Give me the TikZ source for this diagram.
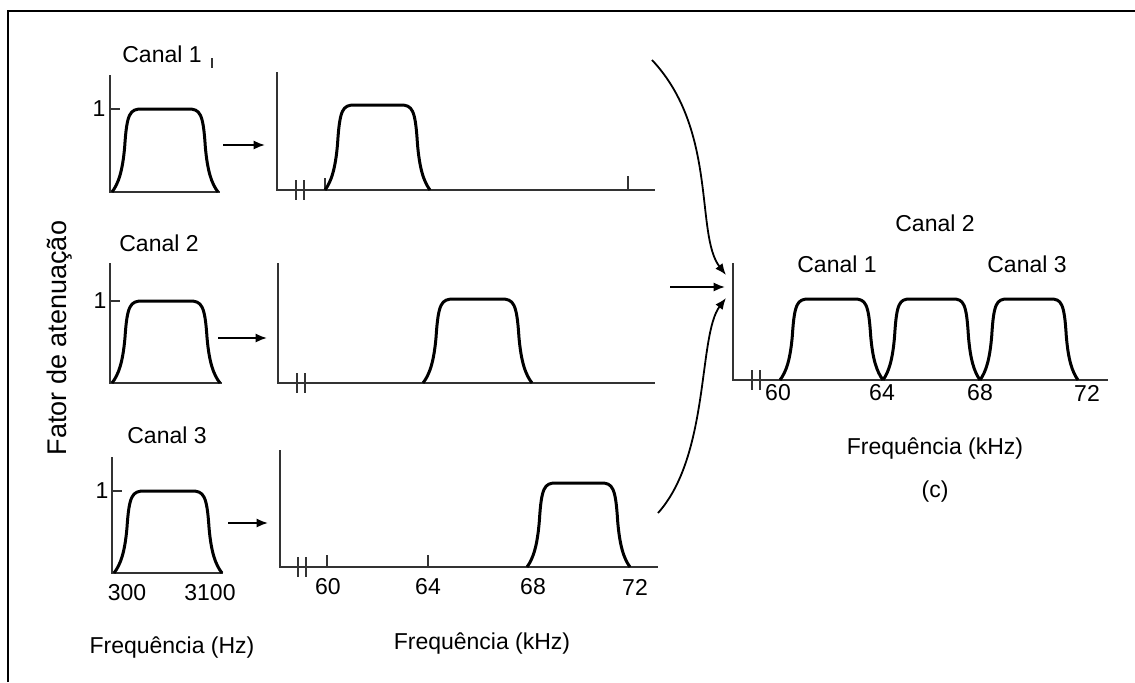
\documentclass[tikz,border=0pt]{standalone}
\usepackage{fontspec}
\setmainfont{Liberation Sans}
\usetikzlibrary{arrows.meta}
\tikzset{
axis/.style={
draw=black!80,
line width=1.1pt
},
band/.style={
draw=black,
line width=1.5pt,
line join=round
},
arrow/.style={
-{Latex[length=2mm,width=1.6mm]},
line width=0.9pt
},
txt/.style={
inner sep=0pt,
font=\fontsize{11.5}{13}\selectfont
}
}
\newcommand{\passband}[4]{%
\draw[band,shift={(#1,#3)},xscale={#2-#1},yscale={#4-#3}]
(0,0) .. controls (0.06,0.1) and (0.1,0.25) .. (0.12,0.55)
.. controls (0.14,0.95) and (0.17,1) .. (0.28,1) -- (0.72,1)
.. controls (0.83,1) and (0.86,0.95) .. (0.88,0.55)
.. controls (0.9,0.25) and (0.94,0.1) .. (1,0);}
\newcommand{\axisgap}[2]{%
\draw[axis] (#1,#2-10) -- (#1,#2+10) (#1+8,#2-10) -- (#1+8,#2+10);}

\begin{document}
\begin{tikzpicture}[x=0.5pt,y=-0.5pt]
\useasboundingbox (0,0) rectangle (1135,682);
\draw[line width=1.2pt] (8,682) -- (8,11) -- (1135,11);

\node[txt,rotate=90,font=\fontsize{13.5}{15}\selectfont] (fator) at (60,338) {Fator de atenuação};

% sinais de voz
\node[txt] (c1) at (162,54) {Canal 1};
\draw[axis] (212,58) -- (212,68);
\draw[axis] (110,75) -- (110,192) -- (220,192);
\draw[axis] (110,109) -- (120,109);
\node[txt] (u1) at (99,109) {1};
\passband{112}{218}{192}{109}

\node[txt] (c2) at (159,243) {Canal 2};
\draw[axis] (110,263) -- (110,383) -- (222,383);
\draw[axis] (110,301) -- (120,301);
\node[txt] (u2) at (100,301) {1};
\passband{112}{220}{383}{301}

\node[txt] (c3) at (167,435) {Canal 3};
\draw[axis] (112,457) -- (112,573) -- (223,573);
\draw[axis] (112,491) -- (122,491);
\node[txt] (u3) at (102,491) {1};
\passband{114}{222}{573}{491}
\node[txt] (f300) at (127,593) {300};
\node[txt] (f3100) at (210,593) {3100};
\node[txt] (fhz) at (172,647) {Frequência (Hz)};

% sinais deslocados
\draw[axis] (277,72) -- (277,190) -- (655,190);
\axisgap{296}{190}
\draw[axis] (325,190) -- (325,178) (628,190) -- (628,176);
\passband{325}{430}{190}{105}

\draw[axis] (278,263) -- (278,383) -- (655,383);
\axisgap{297}{383}
\passband{423}{532}{383}{299}

\draw[axis] (280,450) -- (280,567) -- (658,567);
\axisgap{298}{567}
\draw[axis] (327,567) -- (327,555) (428,567) -- (428,555);
\passband{527}{630}{567}{483}
\node[txt] (k60) at (328,587) {60};
\node[txt] (k64) at (428,587) {64};
\node[txt] (k68) at (533,587) {68};
\node[txt] (k72) at (635,587) {72};
\node[txt] (fkhz) at (482,643) {Frequência (kHz)};

% sinal multiplexado
\node[txt] (r2) at (935,223) {Canal 2};
\node[txt] (r1) at (837,264) {Canal 1};
\node[txt] (r3) at (1027,264) {Canal 3};
\draw[axis] (733,263) -- (733,380) -- (1108,380);
\axisgap{752}{380}
\passband{780}{883}{380}{299}
\passband{883}{980}{380}{299}
\passband{980}{1078}{380}{299}
\node[txt] (m60) at (778,393) {60};
\node[txt] (m64) at (882,393) {64};
\node[txt] (m68) at (980,393) {68};
\node[txt] (m72) at (1087,393) {72};
\node[txt] (mkhz) at (935,448) {Frequência (kHz)};
\node[txt] (fig) at (935,492) {(c)};

% setas
\coordinate (a1) at (223,145);
\coordinate (b1) at (265,145);
\coordinate (a2) at (218,338);
\coordinate (b2) at (267,338);
\coordinate (a3) at (228,523);
\coordinate (b3) at (268,523);
\coordinate (s1) at (652,60);
\coordinate (s2) at (670,287);
\coordinate (s3) at (658,513);
\coordinate (t1) at (726,275);
\coordinate (t2) at (725,287);
\coordinate (t3) at (726,298);
\draw[arrow] (a1) -- (b1);
\draw[arrow] (a2) -- (b2);
\draw[arrow] (a3) -- (b3);
\draw[arrow] (s1) .. controls (718,130) and (695,235) .. (t1);
\draw[arrow] (s2) -- (t2);
\draw[arrow] (s3) .. controls (710,455) and (698,335) .. (t3);
\end{tikzpicture}
\end{document}
